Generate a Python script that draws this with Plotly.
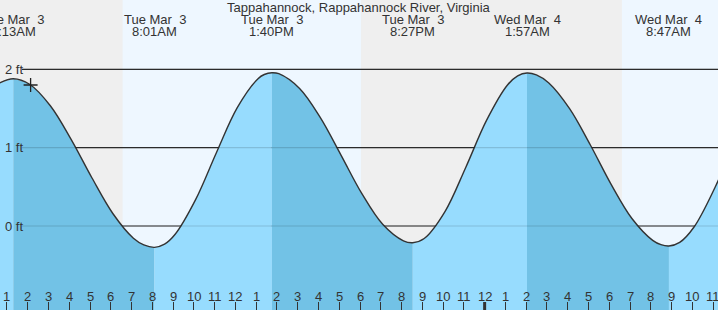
import plotly.graph_objects as go

# ---- data (hours from midnight Tue Mar 3; heights in ft) ----
curve_t = [0.5, 1.217, 2, 3, 4, 5, 6, 7, 7.5, 8.017, 8.5, 9, 10, 11, 12, 13, 13.3, 13.667, 14, 15, 16,
           17, 18, 19, 20, 20.45, 21, 22, 23, 24, 25, 25.5, 25.95, 26.4, 27, 28, 29, 30, 31, 32, 32.4,
           32.783, 33.3, 34, 35, 35.5]
curve_ft = [1.82, 1.88, 1.81, 1.535, 1.106, 0.616, 0.163, -0.156, -0.241, -0.272, -0.232, -0.109,
            0.340, 0.939, 1.511, 1.881, 1.934, 1.957, 1.944, 1.756, 1.383, 0.902, 0.413, 0.022,
            -0.189, -0.213, -0.160, 0.184, 0.748, 1.348, 1.797, 1.917, 1.953, 1.929, 1.826, 1.498,
            1.034, 0.532, 0.096, -0.183, -0.238, -0.255, -0.209, -0.009, 0.492, 0.793]

event_t = [1.217, 8.017, 13.667, 20.45, 25.95, 32.783]
event_day = ["Tue Mar\u00a0 3", "Tue Mar\u00a0 3", "Tue Mar\u00a0 3", "Tue Mar\u00a0 3",
             "Wed Mar\u00a0 4", "Wed Mar\u00a0 4"]
event_time = ["1:13AM", "8:01AM", "1:40PM", "8:27PM", "1:57AM", "8:47AM"]

sun_t = [6.48, 17.96, 30.52]          # sunrise, sunset, sunrise
now_t = [2.05]
now_ft = [1.80]

tick_hours = list(range(1, 36))
tick_labels = ["1", "2", "3", "4", "5", "6", "7", "8", "9", "10", "11", "12",
               "1", "2", "3", "4", "5", "6", "7", "8", "9", "10", "11", "12",
               "1", "2", "3", "4", "5", "6", "7", "8", "9", "10", "11"]
grid_ft = [0, 1, 2]
grid_labels = ["0 ft", "1 ft", "2 ft"]

title = "Tappahannock, Rappahannock River, Virginia"

# ---- style ----
W, H = 718, 310
X_RANGE = [0.577, 35.145]
Y_RANGE = [-1.072, 2.885]
NIGHT = "#efefef"
DAY = "#eef7ff"
RISE = "#97dcfe"
FALL = "#72c2e6"
INK = "#333333"
FONT = "Liberation Sans, Arial, sans-serif"
FS = 13
TICK_SHIFT = 0.09

fig = go.Figure()

# fills per segment between extremes
bounds = [curve_t[0]] + event_t + [curve_t[-1]]
for a, b in zip(bounds[:-1], bounds[1:]):
    xs = [t for t in curve_t if a <= t <= b]
    ys = [v for t, v in zip(curve_t, curve_ft) if a <= t <= b]
    col = FALL if ys[0] > ys[-1] else RISE
    fig.add_trace(go.Scatter(x=xs, y=[Y_RANGE[0] - 1] * len(xs), mode="lines",
                             line=dict(width=0, color=col), hoverinfo="skip", showlegend=False))
    fig.add_trace(go.Scatter(x=xs, y=ys, mode="lines", fill="tonexty", fillcolor=col,
                             line=dict(width=0, color=col, shape="spline"),
                             hoverinfo="skip", showlegend=False))

# tide curve
fig.add_trace(go.Scatter(x=curve_t, y=curve_ft, mode="lines",
                         line=dict(color=INK, width=1.4, shape="spline"),
                         hoverinfo="skip", showlegend=False))
# now marker
fig.add_trace(go.Scatter(x=now_t, y=now_ft, mode="markers",
                         marker=dict(symbol="cross-thin", size=10,
                                     line=dict(color="#222222", width=1.3)),
                         hoverinfo="skip", showlegend=False))

shapes = []
# day bands
day_spans = [(sun_t[0], sun_t[1]), (sun_t[2], X_RANGE[1] + 1)]
for a, b in day_spans:
    shapes.append(dict(type="rect", xref="x", yref="paper", x0=a, x1=b, y0=0, y1=1,
                       fillcolor=DAY, line=dict(width=0), layer="below"))
# grid lines
gx0 = 22 / W
for g in grid_ft:
    shapes.append(dict(type="line", xref="paper", yref="y", x0=gx0, x1=1, y0=g, y1=g,
                       line=dict(color=INK, width=1.2), layer="below"))
    shapes.append(dict(type="line", xref="paper", yref="y", x0=gx0, x1=1, y0=g, y1=g,
                       line=dict(color="rgba(0,0,0,0.14)", width=1.2), layer="above"))
# midnight tick (thick)
mid = tick_hours[tick_labels.index("12", 12)]
shapes.append(dict(type="line", xref="x", yref="paper", x0=mid - TICK_SHIFT, x1=mid - TICK_SHIFT,
                   y0=0, y1=8 / H, line=dict(color=INK, width=3), layer="above"))

ann = []
def py(px):
    return 1 - px / H

font = dict(family=FONT, size=FS, color=INK)
ann.append(dict(text=title, x=0.5, y=py(7.5), xref="paper", yref="paper",
                showarrow=False, xanchor="center", yanchor="middle", font=font))
for t, d, tm in zip(event_t, event_day, event_time):
    ann.append(dict(text=d, x=t, y=py(19.5), xref="x", yref="paper", showarrow=False,
                    xanchor="center", yanchor="middle", font=font))
    ann.append(dict(text=tm, x=t, y=py(31.5), xref="x", yref="paper", showarrow=False,
                    xanchor="center", yanchor="middle", font=font))
for g, lab in zip(grid_ft, grid_labels):
    ann.append(dict(text=lab, x=3 / W, y=g, xref="paper", yref="y", showarrow=False,
                    xanchor="left", yanchor="middle", font=font))
for h, lab in zip(tick_hours, tick_labels):
    ann.append(dict(text=lab, x=h - TICK_SHIFT, y=py(296), xref="x", yref="paper",
                    showarrow=False, xanchor="center", yanchor="middle", font=font))

fig.update_layout(
    width=W, height=H, margin=dict(l=0, r=0, t=0, b=0),
    paper_bgcolor=NIGHT, plot_bgcolor=NIGHT,
    shapes=shapes, annotations=ann, showlegend=False,
    xaxis=dict(range=X_RANGE, showgrid=False, zeroline=False, showline=False,
               tickmode="array", tickvals=[h - TICK_SHIFT for h in tick_hours],
               showticklabels=False,
               ticks="inside", ticklen=8, tickwidth=1, tickcolor=INK, fixedrange=True),
    yaxis=dict(range=Y_RANGE, visible=False, fixedrange=True),
)

fig.write_html("out.html")
